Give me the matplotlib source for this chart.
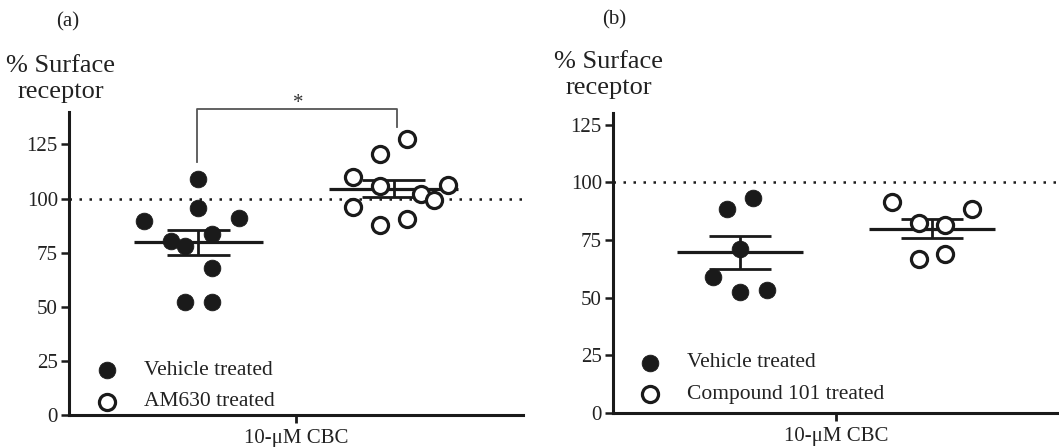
import numpy as np
import matplotlib.pyplot as plt

plt.rcParams['font.family'] = ['Liberation Serif', 'DejaVu Serif']

# data (% surface receptor)
vehicle_a = [109.1, 95.7, 89.5, 91.0, 80.2, 77.9, 83.6, 67.9, 52.0, 52.0]
am630_a = [127.6, 120.4, 110.0, 105.7, 106.2, 101.9, 99.2, 96.1, 90.7, 88.0]
vehicle_b = [93.3, 88.5, 70.9, 59.0, 52.4, 53.5]
cmpd101_b = [91.4, 88.5, 82.5, 81.6, 66.6, 68.7]

labels_a = ['Vehicle treated', 'AM630 treated']
labels_b = ['Vehicle treated', 'Compound 101 treated']
xlabel = '10-\u03bcM CBC'
ylabel = '% Surface\nreceptor'

# layout: swarm slot of each point (column index around the group centre)
slots_vehicle_a = [0, 0, -4, 3, -2, -1, 1, 1, -1, 1]
slots_am630_a = [1, -1, -3, -1, 4, 2, 3, -3, 1, -1]
slots_vehicle_b = [1, -1, 0, -2, 0, 2]
slots_cmpd101_b = [-3, 3, -1, 1, -1, 1]

centers = [0.285, 0.715]
step = 0.03
ink = '#1a1a1a'


def marker_style(filled):
    if filled:
        return dict(ms=12, mew=0.6, mec=ink, mfc=ink)
    return dict(ms=11.6, mew=2.3, mec=ink, mfc='white')


fig = plt.figure(figsize=(10.59, 4.47), dpi=100)
ax_a = fig.add_axes([69 / 1059, 32 / 447, 454 / 1059, 303 / 447])
ax_b = fig.add_axes([613 / 1059, 34 / 447, 446 / 1059, 300 / 447])


def draw_group(ax, vals, slots, cx, filled):
    vals = np.array(vals)
    m = vals.mean()
    sem = vals.std(ddof=1) / np.sqrt(len(vals))
    ax.hlines(m, cx - 0.142, cx + 0.142, color=ink, lw=2.3, zorder=2)
    ax.hlines([m - sem, m + sem], cx - 0.07, cx + 0.07, color=ink, lw=2.0, zorder=2)
    ax.vlines(cx, m - sem, m + sem, color=ink, lw=2.0, zorder=2)
    xs = cx + np.array(slots) * step
    ax.plot(xs, vals, 'o', ls='none', zorder=3, **marker_style(filled))


def style_axes(ax, ymax, labels, leg_y):
    ax.set_xlim(0, 1)
    ax.set_ylim(0, ymax)
    for s in ['top', 'right']:
        ax.spines[s].set_visible(False)
    for s in ['left', 'bottom']:
        ax.spines[s].set_linewidth(2.2)
        ax.spines[s].set_color(ink)
    ax.set_yticks([0, 25, 50, 75, 100, 125])
    ax.set_xticks([0.5])
    ax.set_xticklabels([xlabel])
    ax.tick_params(axis='y', length=6, width=1.8, pad=2, labelsize=15,
                   color=ink, labelcolor='#222222')
    ax.tick_params(axis='x', length=6, width=2.0, pad=4, labelsize=15,
                   color=ink, labelcolor='#222222')
    ax.axhline(100, color=ink, lw=1.8, ls=(0, (1, 3.0)), zorder=1)
    # legend drawn by hand
    for i, lab in enumerate(labels):
        y = leg_y - i * 0.105
        ax.plot(0.084, y, 'o', transform=ax.transAxes, clip_on=False,
                **marker_style(i == 0))
        ax.text(0.165, y, lab, fontsize=15.5, color='#222222',
                transform=ax.transAxes, va='center', ha='left')


draw_group(ax_a, vehicle_a, slots_vehicle_a, centers[0], True)
draw_group(ax_a, am630_a, slots_am630_a, centers[1], False)
draw_group(ax_b, vehicle_b, slots_vehicle_b, centers[0], True)
draw_group(ax_b, cmpd101_b, slots_cmpd101_b, centers[1], False)

style_axes(ax_a, 140, labels_a, 0.148)
style_axes(ax_b, 130, labels_b, 0.167)

# significance bracket in panel (a)
ax_a.plot([0.283, 0.283, 0.723, 0.723], [117, 141.2, 141.2, 133.3],
          color='#555555', lw=1.3, clip_on=False)
ax_a.text(0.505, 141.8, '*', ha='center', va='baseline', fontsize=15,
          color='#333333')

# y axis titles and panel letters
fig.text(61 / 1059, 1 - 79 / 447, ylabel, ha='center', va='center',
         fontsize=19, linespacing=1.2, color='#222222')
fig.text(609 / 1059, 1 - 75 / 447, ylabel, ha='center', va='center',
         fontsize=19, linespacing=1.2, color='#222222')
fig.text(68 / 1059, 1 - 22 / 447, '(a)', ha='center', va='center',
         fontsize=15, color='#222222')
fig.text(614 / 1059, 1 - 20 / 447, '(b)', ha='center', va='center',
         fontsize=15, color='#222222')

fig.savefig('out.png', dpi=100)
